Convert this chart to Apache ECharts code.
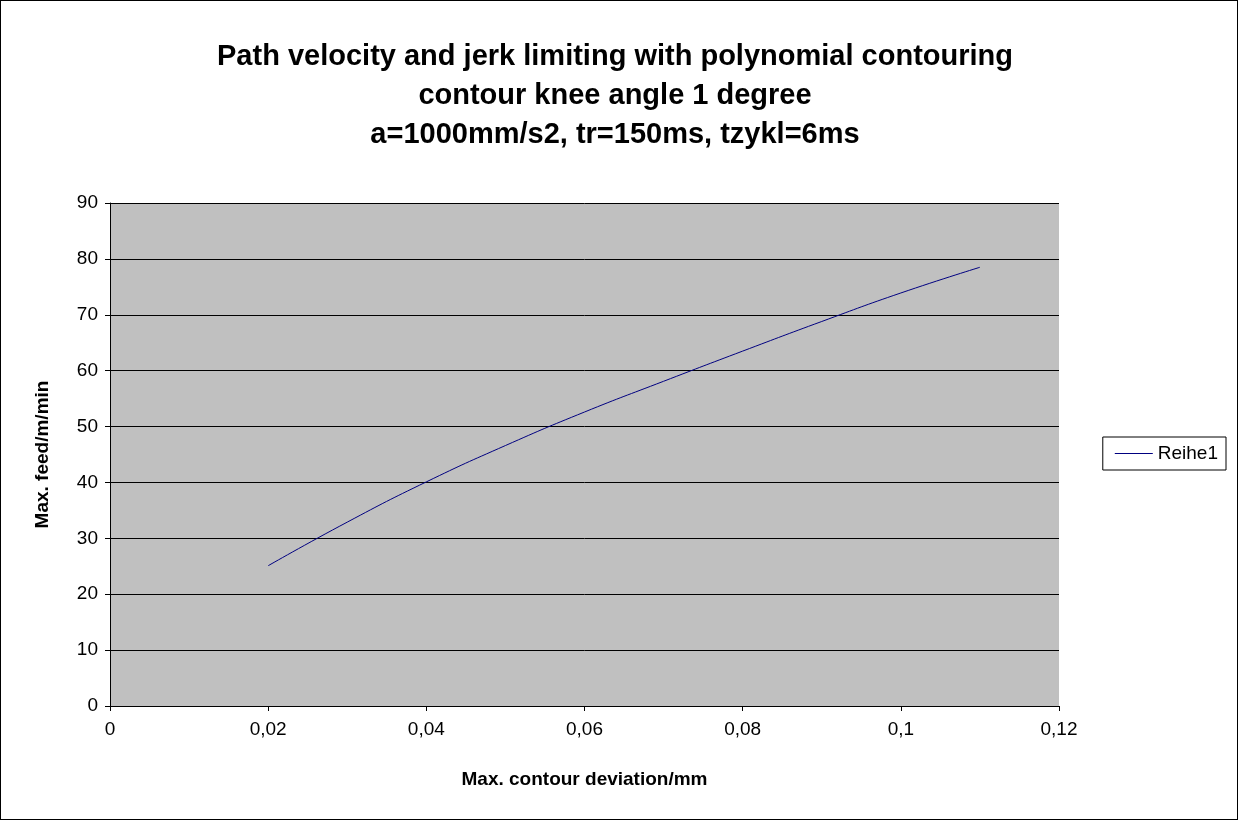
<!DOCTYPE html>
<html><head><meta charset="utf-8">
<script src="https://cdn.jsdelivr.net/npm/echarts@6/dist/echarts.min.js"></script>
<style>html,body{margin:0;padding:0;background:#fff}#c{width:1238px;height:820px;box-sizing:border-box;border:1px solid #000}</style>
</head><body><div id="c"></div>
<script>
const xValues = [0.02,0.03,0.04,0.05,0.06,0.07,0.08,0.09,0.10,0.11];
const yValues = [25.1,32.9,40.1,46.6,52.6,58.1,63.5,68.8,73.9,78.5];
const seriesName = 'Reihe1';
const chart = echarts.init(document.getElementById('c'));
const F = '"Liberation Sans", Arial, sans-serif';
chart.setOption({
  animation:false,
  title:{text:'Path velocity and jerk limiting with polynomial contouring\ncontour knee angle 1 degree\na=1000mm/s2, tr=150ms, tzykl=6ms',left:609,top:31,textAlign:'center',
    textStyle:{fontFamily:F,fontSize:29,fontWeight:'bold',color:'#000',lineHeight:39}},
  legend:{right:11,top:436,orient:'vertical',backgroundColor:'#fff',borderColor:'#000',borderWidth:1,padding:[7,8,7,12],
    itemWidth:38,itemHeight:1,icon:'rect',textStyle:{fontFamily:F,fontSize:19,color:'#000'},data:[seriesName]},
  grid:{left:109,right:178,top:202,bottom:113,backgroundColor:'#c0c0c0',show:true,borderWidth:0},
  xAxis:{type:'value',min:0,max:0.12,interval:0.02,name:'Max. contour deviation/mm',nameLocation:'middle',nameGap:64,
    nameTextStyle:{fontFamily:F,fontSize:19,fontWeight:'bold',color:'#000'},
    axisLine:{lineStyle:{color:'#000'}},axisTick:{show:true,length:5,lineStyle:{color:'#000'}},splitLine:{show:false},
    axisLabel:{fontFamily:F,fontSize:19,color:'#000',margin:14,formatter:v=>String(+v.toFixed(2)).replace('.',',')}},
  yAxis:{type:'value',min:0,max:90,interval:10,name:'Max. feed/m/min',nameLocation:'middle',nameGap:58,
    nameTextStyle:{fontFamily:F,fontSize:19,fontWeight:'bold',color:'#000'},
    axisLine:{show:true,lineStyle:{color:'#000'}},axisTick:{show:true,length:5,lineStyle:{color:'#000'}},
    splitLine:{lineStyle:{color:'#000',width:1}},
    axisLabel:{fontFamily:F,fontSize:19,color:'#000',margin:12}},
  series:[{name:seriesName,type:'line',smooth:true,showSymbol:false,lineStyle:{color:'#000080',width:1},itemStyle:{color:'#000080'},
    data:xValues.map((x,i)=>[x,yValues[i]])}]
});
</script></body></html>
